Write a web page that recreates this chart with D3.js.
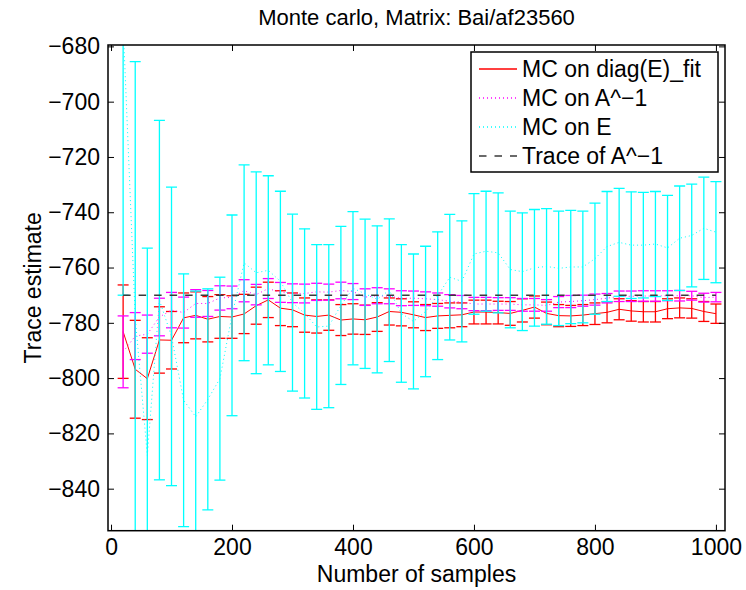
<!DOCTYPE html>
<html>
<head>
<meta charset="utf-8">
<script src="https://cdn.jsdelivr.net/npm/d3@7"></script>
<style>
  body { margin: 0; background: #fff; }
  svg text { font-family: "Liberation Sans", Arial, Helvetica, sans-serif; fill: #000; }
</style>
</head>
<body>
<script>
var width = 746;
var height = 590;

// number of samples (x values)
var samples = [20, 40, 60, 80, 100, 120, 140, 160, 180, 200,
  220, 240, 260, 280, 300, 320, 340, 360, 380, 400,
  420, 440, 460, 480, 500, 520, 540, 560, 580, 600,
  620, 640, 660, 680, 700, 720, 740, 760, 780, 800,
  820, 840, 860, 880, 900, 920, 940, 960, 980, 1000];

// MC on diag(E)_fit : mean and half error
var fitMean = [-783.2, -796.8, -800.2, -786.2, -786.3, -778.2, -777.3, -778.7, -777.7, -777.9,
  -776.8, -773.8, -771.7, -774.7, -775.3, -777.2, -777.7, -777.2, -779.0, -778.6,
  -778.9, -777.9, -775.9, -776.2, -777.1, -778.1, -777.5, -777.3, -777.1, -776.1,
  -776.1, -776.3, -776.6, -775.5, -774.3, -776.6, -777.4, -777.5, -777.2, -776.7,
  -776.2, -775.1, -775.7, -776.0, -776.0, -774.9, -774.6, -774.8, -775.9, -776.7];
var fitErr = [16.9, 17.7, 14.8, 12.0, 10.4, 9.0, 8.5, 8.2, 7.9, 7.7,
  7.1, 6.7, 6.4, 6.3, 6.1, 6.2, 6.0, 5.5, 5.6, 5.5,
  5.3, 5.2, 4.9, 4.9, 4.7, 4.7, 4.5, 4.5, 4.3, 4.3,
  4.3, 4.1, 4.3, 4.2, 4.0, 4.1, 4.0, 3.8, 3.8, 3.9,
  3.8, 3.8, 3.7, 3.7, 3.7, 3.6, 3.6, 3.5, 3.6, 3.5];

// MC on A^-1
var invMean = [-790.5, -784.8, -784.1, -777.9, -775.4, -776.3, -773.0, -773.0, -771.0, -770.8,
  -768.4, -769.8, -767.6, -769.0, -769.3, -769.4, -768.8, -768.9, -768.3, -768.7,
  -770.7, -770.2, -770.4, -771.1, -771.1, -771.3, -771.6, -772.2, -772.5, -773.2,
  -773.2, -773.2, -773.2, -773.5, -773.5, -773.7, -772.5, -772.3, -772.0, -771.6,
  -771.1, -770.4, -770.4, -770.3, -770.3, -770.2, -770.2, -770.2, -770.9, -770.7];
var invErr = [13.0, 8.5, 6.9, 6.8, 6.4, 5.6, 5.0, 4.7, 4.4, 4.1,
  4.0, 3.7, 3.6, 3.6, 3.4, 3.4, 3.1, 2.9, 3.0, 2.9,
  3.0, 2.9, 2.7, 2.7, 2.6, 2.5, 2.4, 2.4, 2.4, 2.4,
  2.4, 2.3, 2.3, 2.3, 2.3, 2.1, 2.0, 2.2, 2.0, 2.0,
  1.7, 1.9, 1.9, 1.9, 1.9, 1.8, 1.9, 1.6, 1.6, 1.7];

// MC on E
var eMean = [-672, -778, -828, -771.8, -784.9, -808, -814, -807.7, -800.2, -777.3,
  -758.3, -761.9, -761.0, -765.0, -772.7, -776.6, -781.5, -781.2, -773.7, -767.5,
  -769.5, -771.5, -768.2, -776.6, -779.5, -775.9, -770.2, -763.5, -765.0, -755.1,
  -754.1, -754.7, -760.7, -761.5, -760.1, -759.6, -760.3, -759.8, -759.8, -756.8,
  -752.4, -750.9, -751.9, -751.9, -751.5, -752.9, -749.4, -748.4, -745.8, -747.2];
var eErr = [98, 92.5, 75, 65, 54, 45.7, 45.5, 40, 36.7, 36.3,
  35.4, 36.5, 34.2, 32.6, 32, 30.6, 29.8, 29.5, 28.6, 27.7,
  27, 26.6, 25.8, 24.9, 24.4, 23.6, 23.1, 22.7, 21.9, 21.8,
  21.7, 21.7, 21.1, 21.3, 21.1, 20.9, 20.7, 20.5, 20.2, 20.1,
  19.9, 19.5, 19.3, 19.1, 19.0, 19.0, 18.9, 18.6, 18.5, 18.3];

// Trace of A^-1
var traceValue = -770;

var xTicks = [0, 200, 400, 600, 800, 1000];
var yTicks = [-680, -700, -720, -740, -760, -780, -800, -820, -840];

var legendLabels = ["MC on diag(E)_fit", "MC on A^\u22121", "MC on E", "Trace of A^\u22121"];

var plot = { left: 108, top: 45, right: 725, bottom: 530.7 };

var xScale = d3.scaleLinear()
  .domain([-5, 1015])
  .range([plot.left, plot.right]);

var yScale = d3.scaleLinear()
  .domain([-855.2, -679.5])
  .range([plot.bottom, plot.top]);

var svg = d3.select('body')
  .append('svg')
  .attr('width', width)
  .attr('height', height);

svg.append("clipPath")
  .attr("id", "plot-area")
  .append("rect")
  .attr("x", plot.left)
  .attr("y", plot.top)
  .attr("width", plot.right - plot.left)
  .attr("height", plot.bottom - plot.top);

var series = [
  { mean: fitMean, err: fitErr, color: "#ff0000", dash: null },
  { mean: invMean, err: invErr, color: "#ff00ff", dash: "1,3" },
  { mean: eMean, err: eErr, color: "#00ffff", dash: "1,3" }
];

var capHalf = 5.5;
var chart = svg.append("g").attr("clip-path", "url(#plot-area)");

series.forEach(function(s) {
  var pts = samples.map(function(x, i) {
    return { x: x, m: s.mean[i], e: s.err[i] };
  });
  var g = chart.append("g")
    .attr("stroke", s.color)
    .attr("stroke-width", 1.3)
    .attr("fill", "none");

  var bars = g.selectAll("g.bar")
    .data(pts)
    .enter()
    .append("g")
    .attr("class", "bar");

  bars.append("line")
    .attr("x1", function(d) { return xScale(d.x); })
    .attr("x2", function(d) { return xScale(d.x); })
    .attr("y1", function(d) { return yScale(d.m - d.e); })
    .attr("y2", function(d) { return yScale(d.m + d.e); });

  // caps
  [-1, 1].forEach(function(sign) {
    bars.append("line")
      .attr("x1", function(d) { return xScale(d.x) - capHalf; })
      .attr("x2", function(d) { return xScale(d.x) + capHalf; })
      .attr("y1", function(d) { return yScale(d.m + sign * d.e); })
      .attr("y2", function(d) { return yScale(d.m + sign * d.e); });
  });

  var line = d3.line()
    .x(function(d) { return xScale(d.x); })
    .y(function(d) { return yScale(d.m); });

  g.append("path")
    .datum(pts)
    .attr("d", line)
    .attr("stroke-width", 1)
    .attr("stroke-dasharray", s.dash);
});

// trace of A^-1 dashed line
chart.append("line")
  .attr("x1", xScale(samples[0]))
  .attr("x2", xScale(samples[samples.length - 1]))
  .attr("y1", yScale(traceValue))
  .attr("y2", yScale(traceValue))
  .attr("stroke", "#3a3a3a")
  .attr("stroke-width", 1.5)
  .attr("stroke-dasharray", "7.5,8");

// axes, ticks pointing inward
var fmt = function(d) { return d3.format("d")(d).replace("-", "\u2212"); };

svg.append("g")
  .attr("class", "x axis")
  .attr("transform", "translate(0," + plot.bottom + ")")
  .call(d3.axisBottom(xScale).tickValues(xTicks).tickSize(-6).tickPadding(8).tickFormat(fmt));

svg.append("g")
  .attr("transform", "translate(0," + plot.top + ")")
  .call(d3.axisTop(xScale).tickValues(xTicks).tickSize(-6).tickFormat(""));

svg.append("g")
  .attr("class", "y axis")
  .attr("transform", "translate(" + plot.left + ",0)")
  .call(d3.axisLeft(yScale).tickValues(yTicks).tickSize(-6).tickPadding(8).tickFormat(fmt));

svg.append("g")
  .attr("transform", "translate(" + plot.right + ",0)")
  .call(d3.axisRight(yScale).tickValues(yTicks).tickSize(-6).tickFormat(""));

svg.selectAll(".domain").remove();
svg.selectAll(".tick line").attr("stroke", "#000").attr("stroke-width", 1);
svg.selectAll(".tick text")
  .style("font-size", "23px")
  .style("font-family", "'Liberation Sans', Arial, sans-serif");

svg.append("rect")
  .attr("x", plot.left)
  .attr("y", plot.top)
  .attr("width", plot.right - plot.left)
  .attr("height", plot.bottom - plot.top)
  .attr("fill", "none")
  .attr("stroke", "#000")
  .attr("stroke-width", 1.5);

// title and axis labels
svg.append("text")
  .attr("x", (plot.left + plot.right) / 2)
  .attr("y", 25)
  .attr("text-anchor", "middle")
  .style("font-size", "22px")
  .text("Monte carlo, Matrix: Bai/af23560");

svg.append("text")
  .attr("x", (plot.left + plot.right) / 2)
  .attr("y", 582)
  .attr("text-anchor", "middle")
  .style("font-size", "23px")
  .text("Number of samples");

svg.append("text")
  .attr("transform", "translate(41," + (plot.top + plot.bottom) / 2 + ") rotate(-90)")
  .attr("text-anchor", "middle")
  .style("font-size", "23px")
  .text("Trace estimate");

// legend
var legend = svg.append("g");
legend.append("rect")
  .attr("x", 471)
  .attr("y", 52)
  .attr("width", 247)
  .attr("height", 120)
  .attr("fill", "#fff")
  .attr("stroke", "#000")
  .attr("stroke-width", 1.5);

var legendStyles = [
  { color: "#ff0000", dash: null, w: 1.5 },
  { color: "#ff00ff", dash: "1,3", w: 1.3 },
  { color: "#00ffff", dash: "1,3", w: 1.3 },
  { color: "#3a3a3a", dash: "7.5,8", w: 1.5 }
];

var items = legend.selectAll("g.item")
  .data(legendLabels)
  .enter()
  .append("g")
  .attr("class", "item")
  .attr("transform", function(d, i) { return "translate(0," + (69 + i * 29) + ")"; });

items.append("line")
  .attr("x1", 479)
  .attr("x2", 517)
  .attr("stroke", function(d, i) { return legendStyles[i].color; })
  .attr("stroke-width", function(d, i) { return legendStyles[i].w; })
  .attr("stroke-dasharray", function(d, i) { return legendStyles[i].dash; });

items.append("text")
  .attr("x", 522)
  .attr("dy", "0.35em")
  .style("font-size", "23px")
  .text(function(d) { return d; });
</script>
</body>
</html>
